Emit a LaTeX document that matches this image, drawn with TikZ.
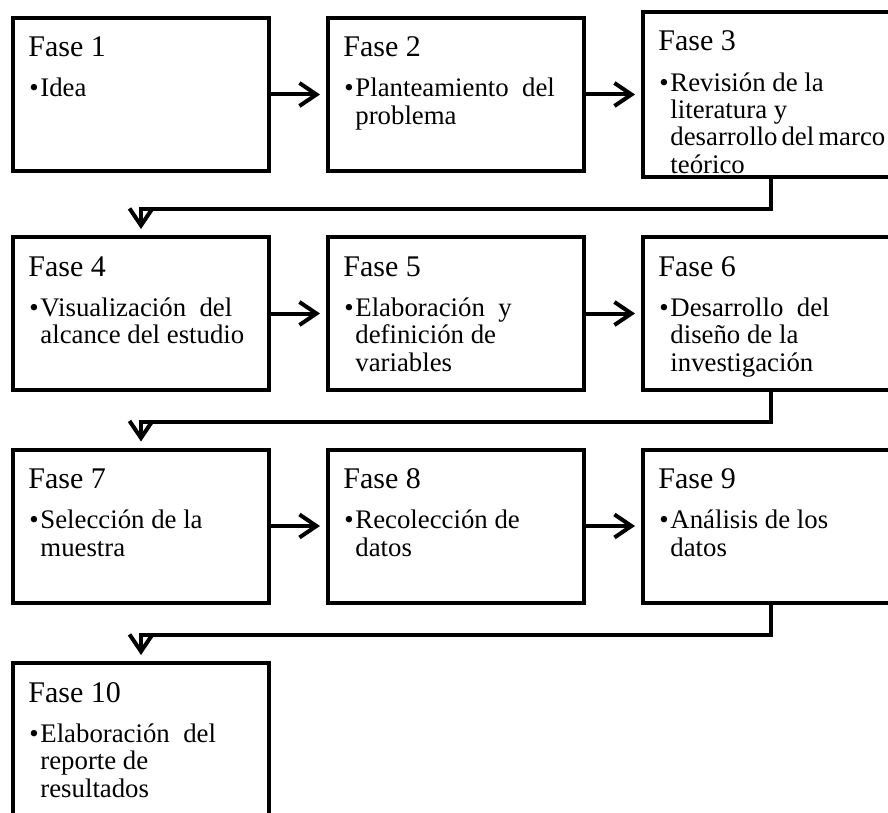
\documentclass[tikz,border=0pt]{standalone}
\usepackage{fontspec}
\setmainfont{Liberation Serif}
\usetikzlibrary{arrows.meta}

\begin{document}
\begin{tikzpicture}[x=0.5pt, y=-0.5pt,
    caja/.style={draw, line width=2pt, minimum width=128pt, inner sep=0pt},
    titulo/.style={anchor=base west, inner sep=0pt, font=\fontsize{15}{18}\selectfont},
    punto/.style={anchor=base west, inner sep=0pt, font=\fontsize{13.4}{13.75}\selectfont},
    cuerpo/.style={anchor=base west, inner sep=0pt, font=\fontsize{13.4}{13.75}\selectfont},
    flecha/.style={line width=2pt, -{Straight Barb[length=8.5pt,width=11.5pt]}, shorten >=3pt}]
    \useasboundingbox (0,0) rectangle (888,813);
    \clip (0,0) rectangle (888,813);
    % fases
    \foreach \n/\cx/\cy/\alto/\txt in {
        1/141/94.5/153/{Idea},
        2/456/94.5/153/{Planteamiento\ \ del\\problema},
        3/771/94.5/165/{Revisión de la\\literatura y\\desarrollo\hspace{0.15em}del\hspace{0.15em}marco\\teórico},
        4/141/313.5/153/{Visualización\ \ del\\alcance del estudio},
        5/456/313.5/153/{Elaboración\ \ y\\definición\ de\\variables},
        6/771/313.5/153/{Desarrollo\ \ del\\diseño de la\\investigación},
        7/141/526/153/{Selección de la\\muestra},
        8/456/526/153/{Recolección de\\datos},
        9/771/526/153/{Análisis de los\\datos},
        10/141/739.5/153/{Elaboración\ \ del\\reporte de\\resultados}}{
        \node[caja, minimum height=\alto*0.5pt] (f\n) at (\cx,\cy) {};
        \node[titulo] (t\n) at ([shift={(17,41)}]f\n.north west) {Fase \n};
        \node[punto] (p\n) at ([shift={(18,81)}]f\n.north west) {\textbullet};
        \node[cuerpo] (c\n) at ([shift={(29,81)}]f\n.north west)
            {\parbox[t]{112pt}{\raggedright \txt}};
    }
    % flechas
    \draw[flecha] (f1) -- (f2);
    \draw[flecha] (f2) -- (f3);
    \draw[flecha] (f3.south) -- ++(0,30) -| (f4.north);
    \draw[flecha] (f4) -- (f5);
    \draw[flecha] (f5) -- (f6);
    \draw[flecha] (f6.south) -- ++(0,30) -| (f7.north);
    \draw[flecha] (f7) -- (f8);
    \draw[flecha] (f8) -- (f9);
    \draw[flecha] (f9.south) -- ++(0,30) -| (f10.north);
\end{tikzpicture}
\end{document}
